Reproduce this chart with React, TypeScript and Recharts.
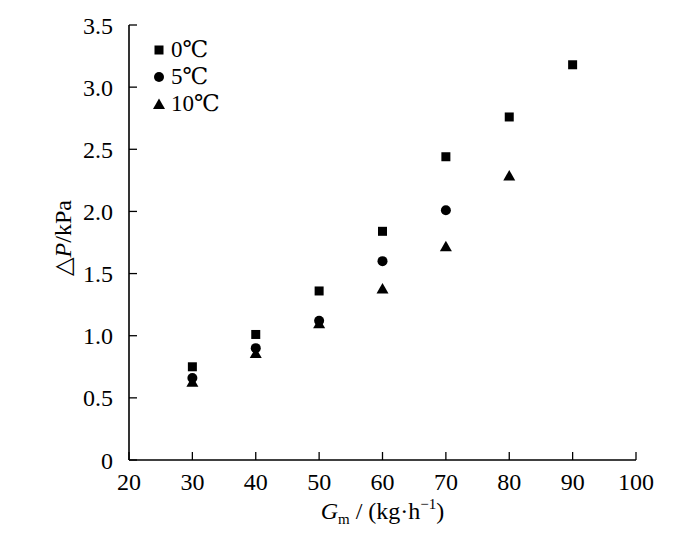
import React from 'react';
import { ScatterChart, Scatter, XAxis, YAxis, Legend } from 'recharts';

const xTicks = [20, 30, 40, 50, 60, 70, 80, 90, 100];
const yTicks = [0, 0.5, 1.0, 1.5, 2.0, 2.5, 3.0, 3.5];

const series0 = [
  { x: 30, y: 0.75 },
  { x: 40, y: 1.01 },
  { x: 50, y: 1.36 },
  { x: 60, y: 1.84 },
  { x: 70, y: 2.44 },
  { x: 80, y: 2.76 },
  { x: 90, y: 3.18 },
];
const series5 = [
  { x: 30, y: 0.66 },
  { x: 40, y: 0.9 },
  { x: 50, y: 1.12 },
  { x: 60, y: 1.6 },
  { x: 70, y: 2.01 },
];
const series10 = [
  { x: 30, y: 0.63 },
  { x: 40, y: 0.86 },
  { x: 50, y: 1.1 },
  { x: 60, y: 1.38 },
  { x: 70, y: 1.72 },
  { x: 80, y: 2.29 },
];
const seriesNames = ['0℃', '5℃', '10℃'];

const FONT = '"Liberation Serif", "Times New Roman", "DejaVu Serif", serif';

const Square = (p: any) => <rect x={p.cx - 4.5} y={p.cy - 4.5} width={9} height={9} fill="#000" />;
const Dot = (p: any) => <circle cx={p.cx} cy={p.cy} r={5} fill="#000" />;
const Tri = (p: any) => (
  <polygon points={`${p.cx - 6},${p.cy + 5} ${p.cx + 6},${p.cy + 5} ${p.cx},${p.cy - 5.5}`} fill="#000" />
);

const legendIcons = [
  <rect key="s" x={2.5} y={2.5} width={9} height={9} fill="#000" />,
  <circle key="c" cx={7} cy={7} r={5} fill="#000" />,
  <polygon key="t" points="1,12 13,12 7,1.5" fill="#000" />,
];

const renderLegend = () => (
  <div style={{ fontFamily: FONT, fontSize: 23, color: '#000' }}>
    {seriesNames.map((n, i) => (
      <div key={n} style={{ display: 'flex', alignItems: 'center', height: 27 }}>
        <svg width={14} height={14} style={{ marginRight: 5 }}>
          {legendIcons[i]}
        </svg>
        <span style={{ lineHeight: '27px' }}>{n}</span>
      </div>
    ))}
  </div>
);

const XLabel = (props: any) => {
  const vb = props.viewBox || { x: 129, width: 507 };
  return (
    <text x={vb.x + vb.width / 2} y={519} textAnchor="middle" fontFamily={FONT} fontSize={24} fill="#000">
      <tspan fontStyle="italic">G</tspan>
      <tspan fontSize={15} dy={5}>m</tspan>
      <tspan dy={-5}> / (kg·h</tspan>
      <tspan fontSize={15} dy={-10}>−1</tspan>
      <tspan dy={10}>)</tspan>
    </text>
  );
};

const YLabel = () => (
  <text x={63} y={238} transform="rotate(-90 63 238)" textAnchor="middle" dominantBaseline="central" fontFamily={FONT} fontSize={24} fill="#000">
    <tspan>△</tspan>
    <tspan fontStyle="italic">P</tspan>
    <tspan>/kPa</tspan>
  </text>
);

const tickStyle = { fontFamily: FONT, fontSize: 24, fill: '#000' };

export default function App() {
  return (
    <div style={{ position: 'absolute', left: 0, top: 0, width: 700, height: 538, background: '#fff' }}>
      <ScatterChart width={700} height={538} margin={{ top: 25, right: 64, bottom: 0, left: 0 }}>
        <XAxis
          dataKey="x"
          type="number"
          domain={[20, 100]}
          ticks={xTicks}
          interval={0}
          height={78}
          tickSize={-8}
          tickMargin={21}
          tick={tickStyle}
          axisLine={{ stroke: '#000', strokeWidth: 1.6 }}
          tickLine={{ stroke: '#000', strokeWidth: 1.3 }}
          label={<XLabel />}
        />
        <XAxis
          xAxisId="top"
          orientation="top"
          type="number"
          domain={[20, 100]}
          height={0}
          tick={false}
          tickLine={false}
          axisLine={{ stroke: '#000', strokeWidth: 1.6 }}
        />
        <YAxis
          dataKey="y"
          type="number"
          domain={[0, 3.5]}
          ticks={yTicks}
          interval={0}
          width={129}
          tickSize={-8}
          tickMargin={24}
          tick={tickStyle}
          tickFormatter={(v: number) => (v === 0 ? '0' : v.toFixed(1))}
          axisLine={{ stroke: '#000', strokeWidth: 1.6 }}
          tickLine={{ stroke: '#000', strokeWidth: 1.3 }}
          label={<YLabel />}
        />
        <YAxis
          yAxisId="right"
          orientation="right"
          type="number"
          domain={[0, 3.5]}
          width={0}
          tick={false}
          tickLine={false}
          axisLine={{ stroke: '#000', strokeWidth: 1.6 }}
        />
        <Legend
          content={renderLegend}
          layout="vertical"
          align="center"
          verticalAlign="middle"
          wrapperStyle={{ position: 'absolute', left: 152, top: 36, width: 120, height: 81 }}
        />
        <Scatter name={seriesNames[0]} data={series0} shape={Square} isAnimationActive={false} />
        <Scatter name={seriesNames[1]} data={series5} shape={Dot} isAnimationActive={false} />
        <Scatter name={seriesNames[2]} data={series10} shape={Tri} isAnimationActive={false} />
      </ScatterChart>
    </div>
  );
}
